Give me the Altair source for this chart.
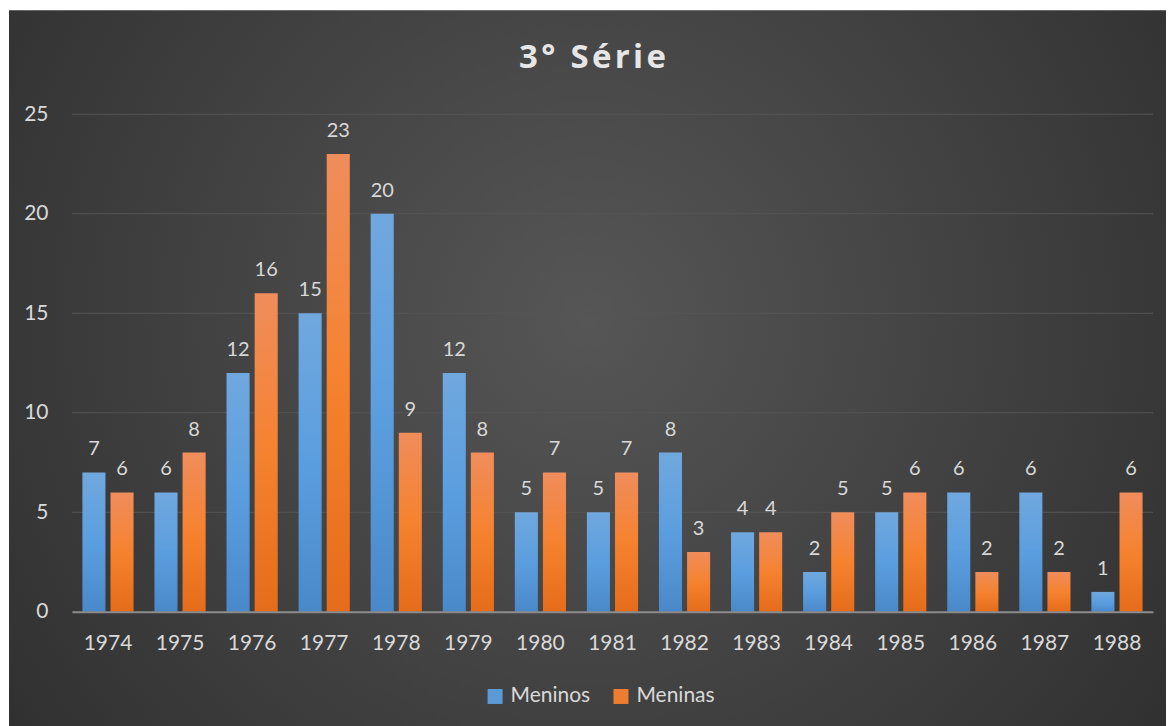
import altair as alt
import pandas as pd

years = [str(y) for y in range(1974, 1989)]
meninos = [7, 6, 12, 15, 20, 12, 5, 5, 8, 4, 2, 5, 6, 6, 1]
meninas = [6, 8, 16, 23, 9, 8, 7, 7, 3, 4, 5, 6, 2, 2, 6]
series = ["Meninos", "Meninas"]
colors = ["#5b9bd5", "#ed7d31"]
y_ticks = [0, 5, 10, 15, 20, 25]
grid_values = [5, 10, 15, 20, 25]
title_text = "\u200a".join("3° Série")

rows = []
for i, yr in enumerate(years):
    rows.append({"ano": yr, "grupo": "Meninos", "n": meninos[i]})
    rows.append({"ano": yr, "grupo": "Meninas", "n": meninas[i]})
df = pd.DataFrame(rows)

W, H = 1082, 498
PL, PT, PR, PB = 64, 106, 13, 130
FONT = "Lato"
TXT = "#d9d9d9"


def vgrad(top, mid, bottom):
    return alt.LinearGradient(
        gradient="linear", x1=0, y1=0, x2=0, y2=1,
        stops=[alt.GradientStop(offset=0, color=top),
               alt.GradientStop(offset=0.5, color=mid),
               alt.GradientStop(offset=1, color=bottom)],
    )


blue_grad = vgrad("#70a8de", "#5b9edf", "#4a89c9")
orange_grad = vgrad("#f08d5c", "#f5822f", "#e56c1a")

bg = alt.Chart(alt.Data(values=[{"a": 1}])).mark_rect(
    fill=alt.RadialGradient(
        gradient="radial", x1=0.5, y1=0.45, x2=0.5, y2=0.45, r1=0, r2=0.75,
        stops=[alt.GradientStop(offset=0, color="#565656"),
               alt.GradientStop(offset=1, color="#282828")],
    )
).encode(
    x=alt.value(-PL + 1), x2=alt.value(W + PR),
    y=alt.value(-PT + 2), y2=alt.value(H + PB),
)

grid = alt.Chart(pd.DataFrame({"v": grid_values})).mark_rule(
    color="#555555", strokeWidth=1
).encode(y=alt.Y("v:Q"))

x_enc = alt.X(
    "ano:N", sort=years,
    scale=alt.Scale(paddingInner=0.29, paddingOuter=0.145),
    axis=alt.Axis(title=None, labelAngle=0, labelFont=FONT, labelFontSize=21,
                  labelColor=TXT, labelPadding=21, ticks=False,
                  domainColor="#8c8c8c", domainWidth=2, zindex=1),
)
y_enc = alt.Y(
    "n:Q", scale=alt.Scale(domain=[0, 25], nice=False),
    axis=alt.Axis(title=None, values=y_ticks, grid=False, domain=False, ticks=False,
                  labelFont=FONT, labelFontSize=21, labelColor=TXT,
                  labelPadding=24, zindex=1),
)
xoff = alt.XOffset("grupo:N", sort=series,
                   scale=alt.Scale(paddingInner=0.18, paddingOuter=0))

bars = alt.Chart(df).mark_bar().encode(
    x=x_enc, y=y_enc, xOffset=xoff,
    fill=alt.condition("datum.grupo == 'Meninos'", alt.value(blue_grad), alt.value(orange_grad)),
)

legend_layer = alt.Chart(df).mark_square(size=0, opacity=1).encode(
    x=alt.X("ano:N", sort=years), y=alt.Y("n:Q"),
    color=alt.Color(
        "grupo:N", sort=series,
        scale=alt.Scale(domain=series, range=colors),
        legend=alt.Legend(title=None, orient="none", legendX=413, legendY=572,
                          direction="horizontal", symbolType="square",
                          symbolSize=225, symbolStrokeWidth=0,
                          labelFont=FONT, labelFontSize=21, labelColor=TXT,
                          labelOffset=5, columnPadding=20, padding=0, zindex=1),
    ),
)

labels = alt.Chart(df).mark_text(
    font=FONT, fontSize=20, color=TXT, baseline="alphabetic", dy=-17
).encode(x=alt.X("ano:N", sort=years), y=alt.Y("n:Q"), xOffset=xoff, text="n:Q")

title = alt.Chart(alt.Data(values=[{"t": title_text}])).mark_text(
    font="Open Sans", fontSize=33, fontWeight="bold", color="#e6e6e6",
    align="center", baseline="alphabetic"
).encode(x=alt.value(521), y=alt.value(-46), text="t:N")

chart = alt.layer(bg, grid, bars, legend_layer, labels, title).properties(
    width=W, height=H,
    autosize=alt.AutoSizeParams(type="none"),
    padding={"left": PL, "top": PT, "right": PR, "bottom": PB},
).configure(background="white").configure_view(stroke=None)

chart.save("out.html", embed_options={"renderer": "svg", "actions": False})
